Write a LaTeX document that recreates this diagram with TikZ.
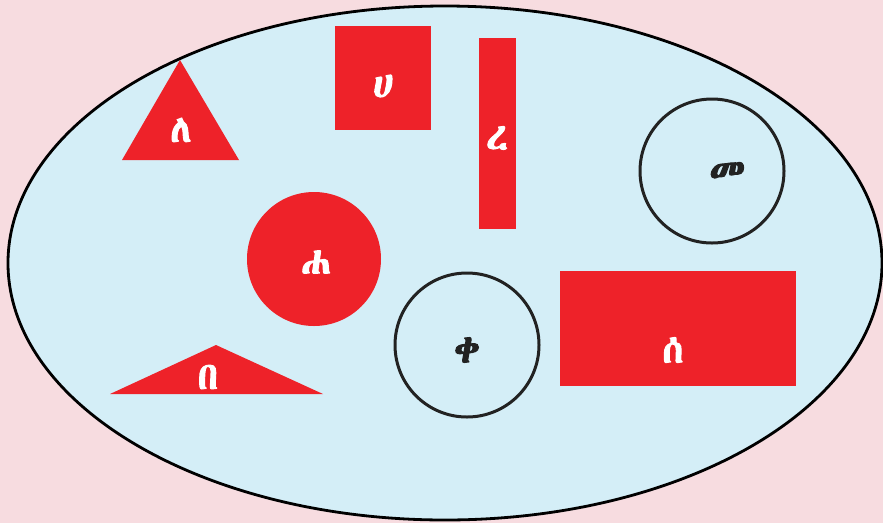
\documentclass[tikz,border=0pt]{standalone}
\usepackage{fontspec}
\newfontfamily\ethfont{Abyssinica SIL}[FakeBold=2.5]
\definecolor{bgpink}{HTML}{F7DCE0}
\definecolor{lblue}{HTML}{D4EEF7}
\definecolor{rred}{HTML}{EE2229}
\definecolor{dark}{HTML}{222222}
\begin{document}
\begin{tikzpicture}[x=1pt,y=-1pt,
  redshape/.style={fill=rred,draw=none},
  ring/.style={draw=dark,line width=3pt},
  wlab/.style={text=white,font=\ethfont\fontsize{38}{44}\selectfont,inner sep=0pt},
  blab/.style={text=dark,font=\ethfont\fontsize{38}{44}\selectfont,inner sep=0pt}]
\fill[bgpink] (0,0) rectangle (883,523);
\useasboundingbox (0,0) rectangle (883,523);
\filldraw[fill=lblue,draw=black,line width=2.8pt] (445,263) ellipse [x radius=437, y radius=257];
% triangle
\fill[redshape] (180,60) -- (239,160) -- (122,160) -- cycle;
\node[wlab] (la) at (181,130) {ለ};
% square
\fill[redshape] (335,26) rectangle (431,130);
\node[wlab] (ha) at (383,86) {ሀ};
% tall rect
\fill[redshape] (479,38) rectangle (516,229);
\node[wlab] (ra) at (497,138) {ረ};
% outline circle top right
\draw[ring] (712,171) circle [radius=72];
\node[blab] (me) at (727,173) {መ};
% red circle
\fill[redshape] (314,259) circle [radius=67];
\node[wlab] (hha) at (316,262) {ሐ};
% outline circle bottom
\draw[ring] (467,345) circle [radius=72];
\node[blab] (qe) at (467,350) {ቀ};
% rectangle
\fill[redshape] (560,271) rectangle (796,386);
\node[wlab] (se) at (673,350) {ሰ};
% flat triangle
\fill[redshape] (216,345) -- (323,394) -- (110,394) -- cycle;
\node[wlab] (be) at (208,377) {በ};
\end{tikzpicture}
\end{document}
